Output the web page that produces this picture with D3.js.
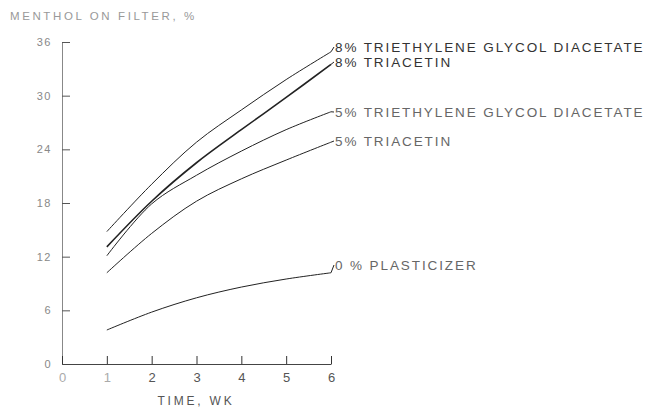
<!DOCTYPE html>
<html>
<head>
<meta charset="utf-8">
<script src="https://cdn.jsdelivr.net/npm/d3@7"></script>
<style>
  body { margin: 0; background: #fff; }
  text { font-family: "Liberation Sans", Arial, sans-serif; }
</style>
</head>
<body>
<div id="chart"></div>
<script>
// weeks and menthol on filter (%)
var weeks = [1, 2, 3, 4, 5, 6];
var teg8 = [14.8, 20.1, 24.8, 28.4, 31.8, 34.9];
var triacetin8 = [13.1, 18.2, 22.5, 26.2, 29.8, 33.5];
var teg5 = [12.1, 17.9, 21.1, 23.8, 26.2, 28.2];
var triacetin5 = [10.2, 14.6, 18.2, 20.7, 22.8, 24.8];
var plasticizer0 = [3.8, 5.8, 7.4, 8.6, 9.5, 10.2];

var seriesNames = ["8% TRIETHYLENE GLYCOL DIACETATE", "8% TRIACETIN",
  "5% TRIETHYLENE GLYCOL DIACETATE", "5% TRIACETIN", "0 % PLASTICIZER"];
var seriesValues = [teg8, triacetin8, teg5, triacetin5, plasticizer0];

var xTicks = [0, 1, 2, 3, 4, 5, 6];
var yTicks = [0, 6, 12, 18, 24, 30, 36];

var width = 657, height = 414;

var svg = d3.select("#chart").append("svg")
    .attr("width", width)
    .attr("height", height);

var x = d3.scaleLinear().domain([0, 6]).range([62, 331]);
var y = d3.scaleLinear().domain([0, 36]).range([364, 42]);

//y axis: ticks point right, labels to the left
var yAxis = svg.append("g")
    .attr("transform", "translate(" + x(0) + ",0)")
    .call(d3.axisLeft(y).tickValues(yTicks).tickFormat(d3.format("d"))
      .tickSize(-8).tickSizeOuter(0).tickPadding(10));
yAxis.select(".domain").attr("stroke", "#888");
yAxis.selectAll(".tick line").attr("stroke", "#555");
yAxis.selectAll(".tick text")
    .attr("fill", "#888")
    .style("font-size", "11px")
    .style("letter-spacing", "1.5px");

//x axis: ticks point up
var xAxis = svg.append("g")
    .attr("transform", "translate(0," + y(0) + ")")
    .call(d3.axisBottom(x).tickValues(xTicks).tickFormat(d3.format("d"))
      .tickSize(-8).tickSizeOuter(0).tickPadding(9));
xAxis.select(".domain").attr("stroke", "#444");
xAxis.selectAll(".tick line").attr("stroke", "#333");
xAxis.selectAll(".tick text")
    .attr("fill", function(d) { return d <= 1 ? "#aaa" : "#555"; })
    .style("font-size", "13px");

//axis titles
svg.append("text")
    .attr("x", 10)
    .attr("y", 20)
    .attr("fill", "#999")
    .style("font-size", "11.5px")
    .style("letter-spacing", "2.6px")
    .text("MENTHOL ON FILTER, %");

svg.append("text")
    .attr("x", 196)
    .attr("y", 405)
    .attr("text-anchor", "middle")
    .attr("fill", "#555")
    .style("font-size", "12px")
    .style("letter-spacing", "2.8px")
    .text("TIME, WK");

//curves
var line = d3.line()
    .x(function(d) { return x(d[0]); })
    .y(function(d) { return y(d[1]); })
    .curve(d3.curveCatmullRom.alpha(0.5));

var labelY = [47, 62, 112, 141, 265];

seriesValues.forEach(function(vals, i) {
  var pts = weeks.map(function(w, j) { return [w, vals[j]]; });
  svg.append("path")
      .attr("d", line(pts))
      .attr("fill", "none")
      .attr("stroke", "#222")
      .attr("stroke-width", i === 1 ? 1.6 : 1);

  //short leader into the label
  var endX = x(6), endY = y(vals[vals.length - 1]);
  svg.append("line")
      .attr("x1", endX).attr("y1", endY)
      .attr("x2", endX + 3).attr("y2", labelY[i])
      .attr("stroke", "#222")
      .attr("stroke-width", 1);

  svg.append("text")
      .attr("x", endX + 4)
      .attr("y", labelY[i])
      .attr("dy", "0.36em")
      .attr("fill", i < 2 ? "#333" : "#666")
      .style("font-size", "13.5px")
      .style("letter-spacing", "1.9px")
      .text(seriesNames[i]);
});
</script>
</body>
</html>
